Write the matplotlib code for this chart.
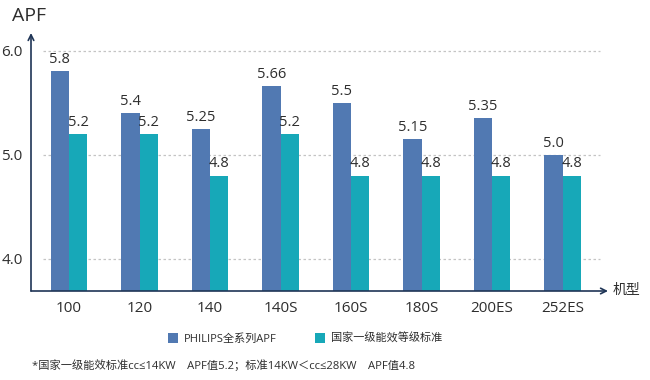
import matplotlib
matplotlib.use("Agg")
import matplotlib.pyplot as plt
import numpy as np

plt.rcParams['font.family'] = ['Open Sans', 'Noto Sans CJK SC', 'DejaVu Sans']

categories = ["100", "120", "140", "140S", "160S", "180S", "200ES", "252ES"]
philips_apf = [5.8, 5.4, 5.25, 5.66, 5.5, 5.15, 5.35, 5.0]
national_std = [5.2, 5.2, 4.8, 5.2, 4.8, 4.8, 4.8, 4.8]
philips_labels = ["5.8", "5.4", "5.25", "5.66", "5.5", "5.15", "5.35", "5.0"]
national_labels = ["5.2", "5.2", "4.8", "5.2", "4.8", "4.8", "4.8", "4.8"]
yticks = [4.0, 5.0, 6.0]
ytick_labels = ["4.0", "5.0", "6.0"]
series_names = ["PHILIPS全系列APF", "国家一级能效等级标准"]
footnote = "*国家一级能效标准cc≤14KW    APF值5.2；标准14KW＜cc≤28KW    APF值4.8"

blue = "#5179b2"
teal = "#17a8b8"
axis_col = "#1f3556"
text_col = "#2e2e2e"

fig = plt.figure(figsize=(6.5, 3.8), dpi=100)
ax = fig.add_axes([31/650, 1-291/380, (608-31)/650, (291-33)/380])

x = np.arange(len(categories))
w = 0.26
b1 = ax.bar(x - w/2, philips_apf, width=w, color=blue, label=series_names[0], zorder=2)
b2 = ax.bar(x + w/2, national_std, width=w, color=teal, label=series_names[1], zorder=2)

ax.set_ylim(3.69, 6.17)
ax.set_xlim(-0.539, 7.645)

for rect, lab in zip(b1, philips_labels):
    ax.annotate(lab, (rect.get_x() + rect.get_width()/2, rect.get_height()),
                xytext=(0, 3), textcoords="offset points", ha="center", va="bottom",
                fontsize=10.5, color=text_col)
for rect, lab in zip(b2, national_labels):
    ax.annotate(lab, (rect.get_x() + rect.get_width()/2, rect.get_height()),
                xytext=(0, 3), textcoords="offset points", ha="center", va="bottom",
                fontsize=10.5, color=text_col)

ax.hlines(yticks, -0.37, 7.53, colors="#c4c4c4", linestyles=(0, (2, 2)), linewidth=0.9, zorder=1)

ax.set_yticks(yticks)
ax.set_yticklabels(ytick_labels, fontsize=11, color=text_col)
ax.set_xticks(x)
ax.set_xticklabels(categories, fontsize=11, color=text_col)
ax.tick_params(axis="both", length=0)
ax.tick_params(axis="y", pad=6)
ax.tick_params(axis="x", pad=7)

for s in ax.spines.values():
    s.set_visible(False)

ax.annotate("", xy=(0, 1), xytext=(0, 0), xycoords="axes fraction",
            arrowprops=dict(arrowstyle="->", color=axis_col, lw=1.2, shrinkA=0, shrinkB=0))
ax.annotate("", xy=(1, 0), xytext=(0, 0), xycoords="axes fraction",
            arrowprops=dict(arrowstyle="->", color=axis_col, lw=1.2, shrinkA=0, shrinkB=0))

fig.text(12/650, 1-16/380, "APF", fontsize=14, color=text_col, ha="left", va="center")
fig.text(613/650, 1-290/380, "机型", fontsize=10, color=text_col, ha="left", va="center")

fig.legend(handles=[b1, b2], loc="center", bbox_to_anchor=(305/650, 1-339/380),
           ncol=2, frameon=False, fontsize=8, handlelength=0.9, handleheight=0.9,
           handletextpad=0.5, columnspacing=3.5, labelcolor=text_col)

fig.text(32/650, 1-366/380, footnote, fontsize=8.1, color=text_col, ha="left", va="center")

fig.savefig("out.png", dpi=100)
